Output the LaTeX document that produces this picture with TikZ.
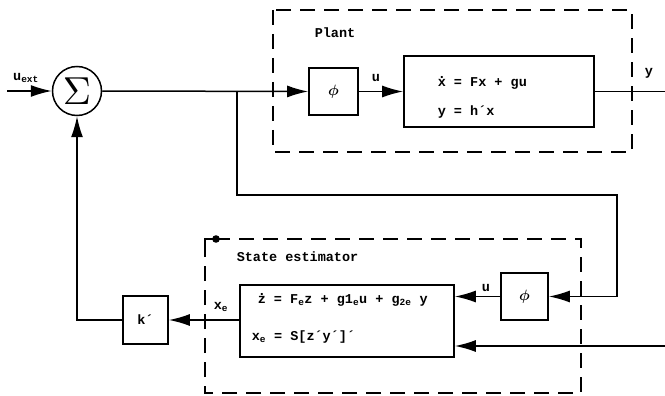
\documentclass[tikz,border=0pt]{standalone}
\usepackage{fontspec}
\setmonofont{Liberation Mono}
\usetikzlibrary{arrows.meta}
\newcommand\mydotacc[1]{\ooalign{#1\cr\hidewidth\raisebox{1.05ex}{.}\hidewidth\cr}}
\newcommand\mysb[1]{\textsubscript{#1}}
\newcommand\myphi{\scalebox{1.5}{\boldmath$\phi$}}
\begin{document}
\begin{tikzpicture}[x=1pt,y=-1pt,
  line width=1.5pt,
  >={Latex[length=21pt,width=12pt]},
  blk/.style={draw,line width=1.7pt,inner sep=0pt},
  txt/.style={font=\ttfamily\bfseries\fontsize{13.5}{15}\selectfont,inner sep=1pt},
  dbox/.style={draw,line width=1.3pt,dash pattern=on 15pt off 9pt}]
\useasboundingbox (0,0) rectangle (665,396);

% dashed frames
\draw[dbox] (273,10) rectangle (632,152);
\draw[dbox] (215,239) -- (581,239) -- (581,393) -- (205,393) -- (205,239);
\draw[line width=1.3pt] (205,252) -- (205,239) -- (215,239);
\fill (216,239) circle (3.8pt);

% blocks
\node[circle,draw,line width=1.5pt,minimum size=49pt,inner sep=0pt] (sum) at (77,91) {\scalebox{3.9}{$\Sigma$}};
\node[blk,minimum width=49pt,minimum height=47pt] (phi1) at (333.5,91.5) {\myphi};
\node[blk,minimum width=190pt,minimum height=71pt] (plant) at (499,91.5) {};
\node[blk,minimum width=47pt,minimum height=47pt] (phi2) at (524.5,296.5) {\myphi};
\node[blk,minimum width=214pt,minimum height=72pt] (est) at (347,321) {};
\node[blk,minimum width=45pt,minimum height=48pt] (k) at (145.5,320) {\ttfamily\bfseries\fontsize{13.5}{15}\selectfont k´};

% texts
\node[txt,anchor=west] (plantlbl) at (313,33) {Plant};
\node[txt,anchor=west] (estlbl) at (235,257) {State estimator};
\node[txt,anchor=west] (eq1) at (436,83) {\mydotacc{x} = Fx + gu};
\node[txt,anchor=west] (eq2) at (436,112) {y = h´x};
\node[txt,anchor=west] (eq3) at (256,300) {\mydotacc{z} = F\mysb{e}z + g1\mysb{e}u + g\mysb{2e} y};
\node[txt,anchor=west] (eq4) at (250,337) {x\mysb{e} = S[z´y´]´};
\node[txt] (uext) at (26,78) {u\mysb{ext}};
\node[txt] (ulbl1) at (376,78) {u};
\node[txt] (ylbl) at (649,73) {y};
\node[txt] (ulbl2) at (486,288) {u};
\node[txt] (xelbl) at (221,307) {x\mysb{e}};

% coordinates
\coordinate (uin) at (7,91);
\coordinate (br) at (237,91);
\coordinate (yout) at (665,91.5);
\coordinate (fb1) at (237,195);
\coordinate (fb2) at (617,195);
\coordinate (fb3) at (617,296.5);
\coordinate (yin) at (665,346);
\coordinate (kc) at (77,320);

% connectors
\draw[->] (uin) -- (sum.west);
\draw[->] (sum.east) -- (phi1.west);
\draw[->] (phi1.east) -- (plant.west);
\draw (plant.east) -- (yout);
\draw[->] (br) -- (fb1) -- (fb2) -- (fb3) -- (phi2.east);
\draw[->] (phi2.west) -- (est.east |- phi2.west);
\draw[->] (yin) -- (est.east |- yin);
\draw[->] (est.west |- k.east) -- (k.east);
\draw[->] (k.west) -- (kc) -- (sum.south);
\end{tikzpicture}
\end{document}
